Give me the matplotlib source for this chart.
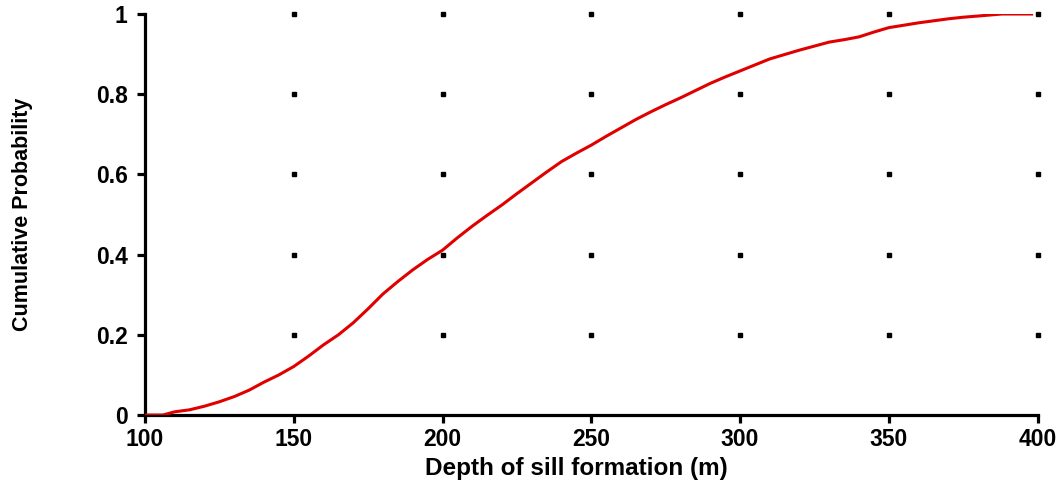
import numpy as np
from matplotlib import pyplot as plt

# depth (m) vs cumulative probability
depth = [100, 106, 110, 115, 120, 125, 130, 135, 140, 145, 150, 155, 160, 165,
         170, 175, 180, 185, 190, 195, 200, 205, 210, 215, 220, 225, 230, 235,
         240, 245, 250, 255, 260, 265, 270, 275, 280, 285, 290, 295, 300, 305,
         310, 315, 320, 325, 330, 335, 340, 345, 350, 355, 360, 365, 370, 375,
         380, 388, 398]
prob = [0.0, 0.0, 0.008, 0.013, 0.022, 0.033, 0.046, 0.062, 0.082, 0.100,
        0.121, 0.147, 0.175, 0.200, 0.230, 0.265, 0.302, 0.333, 0.362, 0.388,
        0.411, 0.442, 0.471, 0.498, 0.524, 0.552, 0.579, 0.606, 0.632, 0.653,
        0.673, 0.695, 0.716, 0.737, 0.756, 0.774, 0.791, 0.809, 0.827, 0.843,
        0.858, 0.873, 0.888, 0.899, 0.910, 0.920, 0.930, 0.936, 0.943, 0.955,
        0.966, 0.972, 0.978, 0.983, 0.988, 0.992, 0.995, 1.0, 1.0]

x_ticks = [100, 150, 200, 250, 300, 350, 400]
y_ticks = [0, 0.2, 0.4, 0.6, 0.8, 1]
y_labels = ["0", "0.2", "0.4", "0.6", "0.8", "1"]

plt.rcParams['font.family'] = ['Liberation Sans', 'DejaVu Sans']
plt.rcParams['font.weight'] = 'bold'

fig = plt.figure(figsize=(10.6, 4.8), dpi=100)
ax = fig.add_axes([0.1368, 0.1354, 0.842, 0.8354])

# dotted grid: a dot at every tick intersection
gx, gy = np.meshgrid(x_ticks[1:], y_ticks[1:])
ax.plot(gx.ravel(), gy.ravel(), 's', color='black', markersize=3.3,
        clip_on=False, zorder=1)

ax.plot(depth, prob, color='#e00000', linewidth=2.2, zorder=3)

ax.set_xlim(100, 400)
ax.set_ylim(0, 1)
ax.set_xticks(x_ticks)
ax.set_yticks(y_ticks)
ax.set_yticklabels(y_labels)

for side in ['top', 'right']:
    ax.spines[side].set_visible(False)
for side in ['left', 'bottom']:
    ax.spines[side].set_linewidth(2.3)
ax.tick_params(direction='out', length=5.5, width=2.3, labelsize=16.5)
ax.tick_params(axis='x', pad=4)
ax.tick_params(axis='y', pad=7)

ax.set_xlabel('Depth of sill formation (m)', fontsize=17.5, fontweight='bold')
ax.xaxis.set_label_coords(0.483, -0.105)
ax.set_ylabel('Cumulative Probability', fontsize=15.5, fontweight='bold')
ax.yaxis.set_label_coords(-0.126, 0.5)

fig.savefig('out.png', dpi=100)
